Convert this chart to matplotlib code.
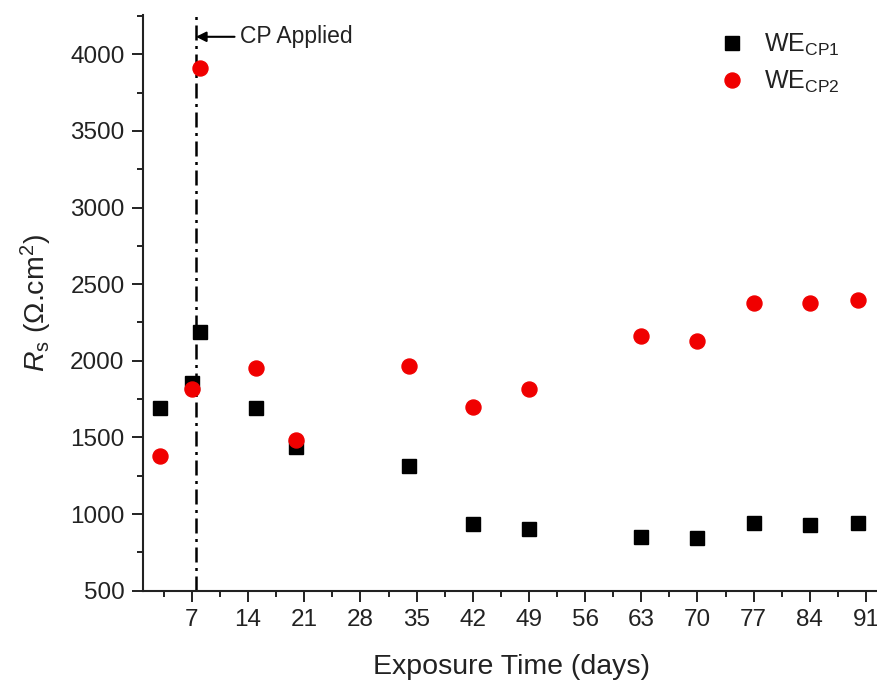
import matplotlib
matplotlib.use('Agg')
import matplotlib.pyplot as plt
from matplotlib.ticker import MultipleLocator

plt.rcParams['font.family'] = ['Liberation Sans', 'DejaVu Sans']
plt.rcParams['mathtext.fontset'] = 'custom'
plt.rcParams['mathtext.rm'] = 'Liberation Sans'
plt.rcParams['mathtext.it'] = 'Liberation Sans:italic'
plt.rcParams['mathtext.bf'] = 'Liberation Sans:bold'

# Exposure time (days) and solution resistance Rs (ohm.cm2)
days = [3, 7, 8, 15, 20, 34, 42, 49, 63, 70, 77, 84, 90]
rs_cp1 = [1690, 1858, 2185, 1690, 1440, 1316, 937, 905, 852, 846, 944, 931, 944]
rs_cp2 = [1381, 1819, 3910, 1950, 1486, 1969, 1701, 1818, 2164, 2132, 2380, 2380, 2400]
cp_day = 7.5
x_ticks = [7, 14, 21, 28, 35, 42, 49, 56, 63, 70, 77, 84, 91]

ink = '#222222'

fig = plt.figure(figsize=(8.78, 6.8), dpi=100)
ax = fig.add_axes([0.1625, 0.1313, 0.8397, 0.8466])

ax.plot(days, rs_cp1, ls='none', marker='s', ms=9.6, color='black',
        label=r'WE$_{\mathrm{CP1}}$')
ax.plot(days, rs_cp2, ls='none', marker='o', ms=10.8, color='#f00000',
        label=r'WE$_{\mathrm{CP2}}$')

# vertical marker for the day cathodic protection was switched on
ax.axvline(cp_day, color='black', lw=1.8, ls=(0, (6, 2.2, 1.2, 2.2)), zorder=1)
ax.annotate('CP Applied', xy=(cp_day, 4114), xytext=(13.0, 4114),
            ha='left', va='center', fontsize=16.5, color=ink,
            arrowprops=dict(arrowstyle='-|>', color='black', lw=1.5,
                            mutation_scale=15, shrinkA=2, shrinkB=0))

ax.set_xlim(0.86, 92.74)
ax.set_ylim(500, 4256)
ax.set_xticks(x_ticks)
ax.xaxis.set_minor_locator(MultipleLocator(3.5))
ax.yaxis.set_major_locator(MultipleLocator(500))
ax.yaxis.set_minor_locator(MultipleLocator(250))

for side in ['top', 'right']:
    ax.spines[side].set_visible(False)
for side in ['left', 'bottom']:
    ax.spines[side].set_linewidth(1.5)
    ax.spines[side].set_color(ink)

ax.tick_params(which='major', direction='out', length=8, width=1.4,
               colors=ink, labelsize=17.5, pad=5)
ax.tick_params(which='minor', direction='out', length=4, width=1.4, colors=ink)

ax.set_xlabel('Exposure Time (days)', fontsize=20.5, color=ink, labelpad=17)
ax.set_ylabel(r'$R_{\mathrm{s}}$ ($\Omega$.cm$^2$)', fontsize=20.5, color=ink,
              labelpad=12)

ax.legend(loc='upper left', bbox_to_anchor=(0.745, 0.997), frameon=False,
          fontsize=18, handletextpad=0.3, labelspacing=0.45, markerscale=1.0,
          borderaxespad=0.2, labelcolor=ink)

fig.savefig('out.png', dpi=100)
